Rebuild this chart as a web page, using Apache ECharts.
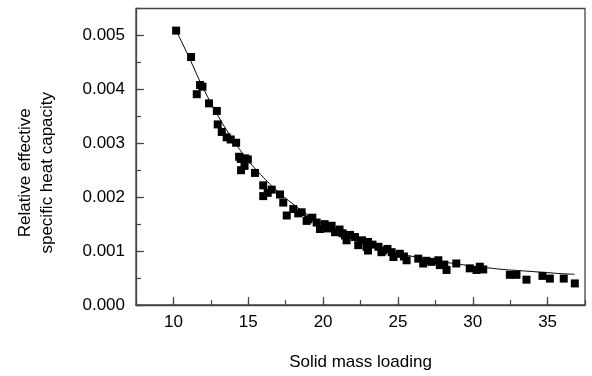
<!DOCTYPE html>
<html>
<head>
<meta charset="utf-8">
<script src="https://cdn.jsdelivr.net/npm/echarts@6/dist/echarts.min.js"></script>
<style>
html,body{margin:0;padding:0;background:#fff;}
#c{width:592px;height:376px;}
</style>
</head>
<body>
<div id="c"></div>
<script>
const massLoading = [10.18,11.18,11.78,11.94,11.56,12.38,12.90,12.96,13.23,13.56,13.83,14.19,14.39,14.79,14.50,14.97,14.52,14.75,15.45,16.00,16.57,16.00,16.30,17.12,17.34,17.57,18.01,18.34,18.57,18.90,19.01,19.28,19.57,19.79,20.10,20.57,20.80,21.10,21.46,21.57,21.80,22.13,22.35,22.60,23.00,23.00,23.30,23.70,23.90,24.30,24.58,24.70,25.13,25.58,26.36,26.69,27.25,27.70,27.80,28.25,28.90,29.80,30.25,30.47,30.70,32.48,32.92,33.59,34.66,35.15,36.08,36.82,20.3,21.3,22.9,24.0,25.4,26.9,28.1];
const heatCapacity = [0.00509,0.00460,0.00408,0.00405,0.00391,0.00374,0.00360,0.00335,0.00321,0.00311,0.00307,0.00301,0.00275,0.00272,0.00271,0.00270,0.00250,0.00258,0.00245,0.00222,0.00214,0.00202,0.00208,0.00205,0.00190,0.00166,0.00178,0.00170,0.00172,0.00156,0.00159,0.00162,0.00153,0.00141,0.00150,0.00147,0.00135,0.00140,0.00129,0.00120,0.00130,0.00126,0.00111,0.00120,0.00117,0.00101,0.00112,0.00108,0.00098,0.00104,0.00098,0.00089,0.00095,0.00083,0.00086,0.00077,0.00080,0.00083,0.00074,0.00065,0.00077,0.00068,0.00065,0.00071,0.00066,0.00056,0.00056,0.00047,0.00054,0.00049,0.00049,0.00040,0.00142,0.00133,0.00108,0.00101,0.00090,0.00082,0.00075];
const fitX = [10.2,11,12,13,14,15,16,17,18,19,20,21,22,23,24,25,26,27,28,29,30,31,32,33,34,35,36,36.8];
const fitY = [0.00508,0.00462,0.00402,0.00350,0.00306,0.00268,0.00237,0.00210,0.00187,0.00167,0.00150,0.00136,0.00124,0.00113,0.00104,0.00097,0.00090,0.00085,0.00080,0.00076,0.00072,0.00069,0.00066,0.00064,0.00062,0.00060,0.00058,0.00057];
const xMajorTicks = [10,15,20,25,30,35];
const yMajorTicks = [0,0.001,0.002,0.003,0.004,0.005];

const FONT = 'Liberation Sans, Arial, sans-serif';
const AX = '#444';
const chart = echarts.init(document.getElementById('c'), null, {renderer:'canvas'});
const scatterData = massLoading.map((x,i)=>[x, heatCapacity[i]]);
const fitData = fitX.map((x,i)=>[x, fitY[i]]);

chart.setOption({
  backgroundColor:'#fff',
  animation:false,
  grid:{left:136, right:7, top:8.5, bottom:67.3, show:true, borderColor:AX, borderWidth:1.3, backgroundColor:'transparent'},
  xAxis:[
    {type:'value', min:7.5, max:37.5, interval:2.5, position:'bottom',
     axisLine:{show:true, lineStyle:{color:AX, width:1.3}},
     axisTick:{show:true, inside:true, length:5, lineStyle:{color:AX, width:1.2}},
     axisLabel:{show:true, margin:9, color:'#000', fontSize:17, fontFamily:FONT,
       formatter:v=> (xMajorTicks.indexOf(Math.round(v*10)/10) >= 0 ? String(Math.round(v)) : '')},
     splitLine:{show:false},
     name:'Solid mass loading', nameLocation:'middle', nameGap:49,
     nameTextStyle:{color:'#000', fontSize:17, fontFamily:FONT}},
    {type:'value', min:7.5, max:37.5, interval:2.5, position:'bottom',
     axisLine:{show:false},
     axisTick:{show:true, inside:true, length:8, lineStyle:{color:AX, width:1.2},
       customValues:xMajorTicks},
     axisLabel:{show:false}, splitLine:{show:false}}
  ],
  yAxis:[
    {type:'value', min:0, max:0.0055, interval:0.0005, position:'left',
     axisLine:{show:true, lineStyle:{color:AX, width:1.3}},
     axisTick:{show:true, inside:true, length:5, lineStyle:{color:AX, width:1.2}},
     axisLabel:{show:true, margin:11, color:'#000', fontSize:17, fontFamily:FONT,
       formatter:v=>{const k=Math.round(v*10000); return (k%10===0 && k<=50) ? (k/10000).toFixed(3) : '';}},
     splitLine:{show:false},
     name:'Relative effective\nspecific heat capacity', nameLocation:'middle', nameGap:78, nameRotate:90,
     nameTextStyle:{color:'#000', fontSize:17, fontFamily:FONT, lineHeight:22, padding:[0,32,0,0]}},
    {type:'value', min:0, max:0.0055, interval:0.0005, position:'left',
     axisLine:{show:false},
     axisTick:{show:true, inside:true, length:8, lineStyle:{color:AX, width:1.2},
       customValues:yMajorTicks},
     axisLabel:{show:false}, splitLine:{show:false}}
  ],
  series:[
    {type:'line', data:fitData, xAxisIndex:0, yAxisIndex:0, smooth:true, showSymbol:false,
     lineStyle:{color:'#000', width:1}, z:3},
    {type:'scatter', data:scatterData, xAxisIndex:0, yAxisIndex:0, symbol:'rect', symbolSize:8,
     itemStyle:{color:'#000', opacity:1}, z:4}
  ]
});
</script>
</body>
</html>
